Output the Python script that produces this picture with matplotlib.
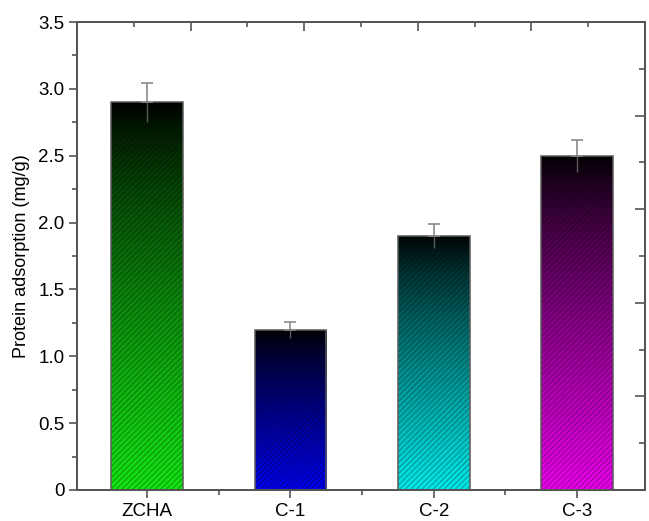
import numpy as np
import matplotlib

matplotlib.use("Agg")
import matplotlib.pyplot as plt
from matplotlib.ticker import FixedLocator, FuncFormatter

plt.rcParams["font.family"] = ["Liberation Sans", "DejaVu Sans"]
plt.rcParams["hatch.linewidth"] = 0.9

samples = ["ZCHA", "C-1", "C-2", "C-3"]
adsorption = [2.90, 1.20, 1.90, 2.50]
errors = [0.145, 0.06, 0.09, 0.12]
colors = [(0.08, 0.9, 0.08), (0.0, 0.0, 0.92), (0.0, 0.92, 0.92), (0.92, 0.0, 0.92)]

SPINE = "#555555"

fig = plt.figure(figsize=(6.49, 5.21), dpi=100)
ax = fig.add_axes([77 / 649, 1 - 490 / 521, 568 / 649, 468 / 521])

x = np.arange(len(samples))
width = 0.5
bars = ax.bar(x, adsorption, width=width, color="none", edgecolor="none", zorder=2)

# vertical gradient (black at top -> full colour at bottom), clipped to each bar
for patch, col in zip(bars.patches, colors):
    t = np.linspace(0, 1, 256)[:, None] ** 0.8  # 0 = top row
    img = np.ones((256, 1, 3)) * np.array(col)[None, None, :] * t[:, :, None]
    x0, y0 = patch.get_x(), patch.get_y()
    im = ax.imshow(img, extent=[x0, x0 + patch.get_width(), y0, y0 + patch.get_height()],
                   aspect="auto", origin="upper", zorder=2, interpolation="bilinear")
    im.set_clip_path(patch)

# dark diagonal stripes
ax.bar(x, adsorption, width=width, color="none", edgecolor=(0, 0, 0, 0.28),
       hatch="/" * 6, linewidth=0, zorder=3)
# outline
ax.bar(x, adsorption, width=width, color="none", edgecolor="#5a5a5a",
       linewidth=1.1, zorder=4)

# error bars: cap on top only
ax.errorbar(x, adsorption, yerr=[np.zeros(len(x)), errors], fmt="none",
            ecolor="#8a8a8a", elinewidth=1.2, capsize=4, capthick=1.2, zorder=5)
ax.errorbar(x, adsorption, yerr=[errors, np.zeros(len(x))], fmt="none",
            ecolor="#5a5a5a", elinewidth=1.0, capsize=0, zorder=5)

ax.set_xlim(-0.49, 3.475)
ax.set_ylim(0, 3.5)
ax.set_xticks(x)
ax.set_xticklabels(samples)
ax.xaxis.set_minor_locator(FixedLocator([0.5, 1.5, 2.5]))
ax.set_yticks(np.arange(0, 3.51, 0.5))
ax.yaxis.set_minor_locator(FixedLocator(np.arange(0.25, 3.5, 0.5)))
ax.yaxis.set_major_formatter(FuncFormatter(lambda v, p: "0" if v == 0 else f"{v:.1f}"))
ax.tick_params(which="major", direction="out", length=6, width=1.2, color=SPINE,
               labelsize=13.5, pad=3, top=False, right=False)
ax.tick_params(which="minor", direction="out", length=3.5, width=1.2, color=SPINE,
               top=False, right=False)
ax.set_ylabel("Protein adsorption (mg/g)", fontsize=13, labelpad=6)

for spine in ax.spines.values():
    spine.set_color(SPINE)
    spine.set_linewidth(1.4)

# top axis ticks (inward, unlabeled)
axt = ax.twiny()
axt.set_xlim(0, 10)
axt.set_xticks([2, 4, 6, 8])
axt.xaxis.set_minor_locator(FixedLocator([1, 3, 5, 7, 9]))
axt.tick_params(which="major", direction="in", length=6.5, width=1.2, color=SPINE,
                labeltop=False)
axt.tick_params(which="minor", direction="in", length=3.5, width=1.2, color=SPINE)

# right axis ticks (inward, unlabeled)
axr = ax.twinx()
axr.set_ylim(0, 5)
axr.set_yticks([1, 2, 3, 4])
axr.yaxis.set_minor_locator(FixedLocator([0.5, 1.5, 2.5, 3.5, 4.5]))
axr.tick_params(which="major", direction="in", length=7, width=1.2, color=SPINE,
                labelright=False)
axr.tick_params(which="minor", direction="in", length=4, width=1.2, color=SPINE)

for a in (axt, axr):
    for spine in a.spines.values():
        spine.set_color(SPINE)
        spine.set_linewidth(1.4)

fig.savefig("out.png", dpi=100, facecolor="white")
